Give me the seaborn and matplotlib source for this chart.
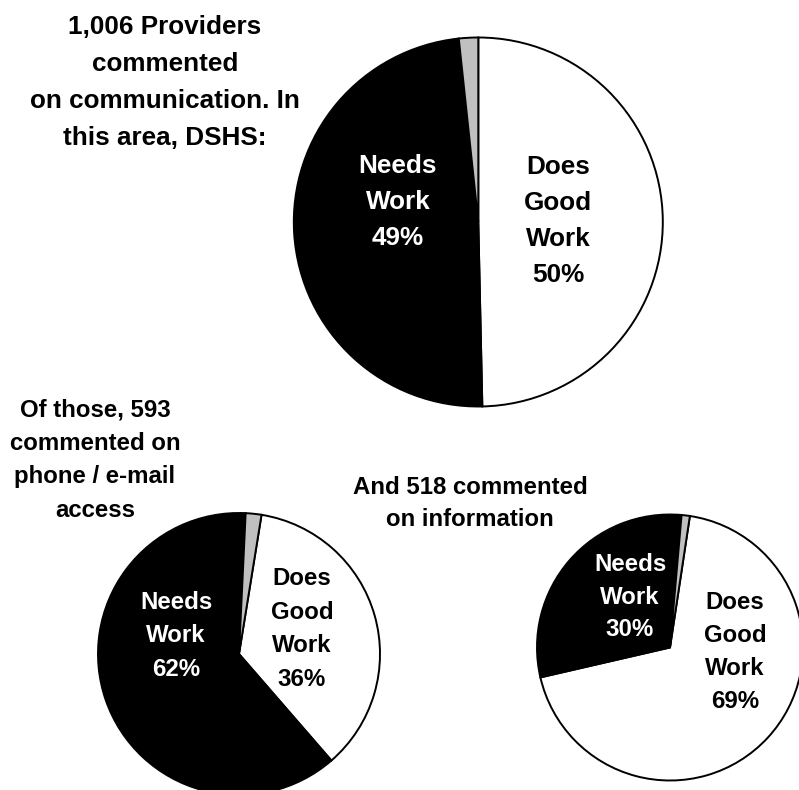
import matplotlib
matplotlib.use("Agg")
import matplotlib.pyplot as plt
import seaborn as sns

# Canvas size in pixels (dpi 100)
W, H = 799, 790

# ---- data -------------------------------------------------------------
categories = ["Does Good Work", "Needs Work", "Other"]
communication = [50, 49, 1.7]
phone_email = [36, 62, 1.8]
information = [69, 30, 1.0]

title_communication = ["1,006 Providers", "commented", "on communication. In", "this area, DSHS:"]
title_phone_email = ["Of those, 593", "commented on", "phone / e-mail", "access"]
title_information = ["And 518 commented", "on information"]

# ---- styling ----------------------------------------------------------
slice_colors = ["#ffffff", "#000000", "#c0c0c0"]
label_colors = ["#000000", "#ffffff"]

sns.set_theme(style="white")
plt.rcParams["font.family"] = ["Liberation Sans", "DejaVu Sans"]
plt.rcParams["font.weight"] = "bold"

# layout of each pie (pixel coordinates, y measured from the top)
panels = [
    dict(values=communication, title=title_communication,
         cx=478.3, cy=222, r=184.5, start=90.0, size=18.8,
         title_pos=(165, 25, 36.7),
         label_pos=[(558, 165, 36), (398, 163.5, 36.2)]),
    dict(values=phone_email, title=title_phone_email,
         cx=239, cy=654, r=141, start=80.8, size=17.3,
         title_pos=(95, 407, 33.6),
         label_pos=[(302, 576, 33.6), (176, 600, 33.5)]),
    dict(values=information, title=title_information,
         cx=670, cy=647.5, r=133, start=81.4, size=17.3,
         title_pos=(470, 485, 32.5),
         label_pos=[(735, 600, 33), (630, 562, 32.7)]),
]

fig = plt.figure(figsize=(W / 100, H / 100), dpi=100)
fig.patch.set_facecolor("white")
ax = fig.add_axes([0, 0, 1, 1])


def stacked(x, y0, step, lines, size, color):
    """Draw centred lines of bold text, one below the other."""
    for i, line in enumerate(lines):
        ax.text(x, H - (y0 + i * step), line, ha="center",
                va="center_baseline", fontsize=size, color=color,
                fontweight="bold")


for p in panels:
    ax.pie(p["values"], colors=slice_colors, startangle=p["start"],
           counterclock=False, center=(p["cx"], H - p["cy"]),
           radius=p["r"], frame=True,
           wedgeprops=dict(edgecolor="black", linewidth=1.4))

    tx, ty, tstep = p["title_pos"]
    stacked(tx, ty, tstep, p["title"], p["size"], "black")

    for k in range(2):
        lx, ly, lstep = p["label_pos"][k]
        words = categories[k].split()
        stacked(lx, ly, lstep, words + [f"{p['values'][k]:g}%"],
                p["size"], label_colors[k])

ax.set_xlim(0, W)
ax.set_ylim(0, H)
ax.set_aspect("equal")
ax.axis("off")

fig.savefig("out.png", dpi=100, facecolor="white")
